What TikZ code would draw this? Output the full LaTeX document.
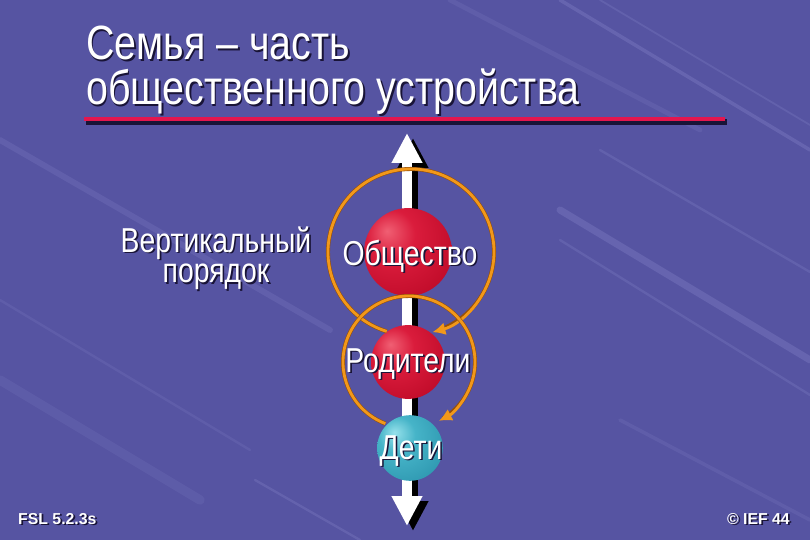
\documentclass[tikz,border=0pt]{standalone}
\usepackage{fontspec}
\setmainfont{Liberation Sans}[FakeStretch=0.82]
\newfontfamily\footfont{Liberation Sans}
\usetikzlibrary{arrows.meta}
\definecolor{bg}{RGB}{86,84,162}
\definecolor{streak}{RGB}{150,150,215}
\definecolor{shd}{RGB}{25,20,55}
\definecolor{rline}{RGB}{228,22,78}
\definecolor{orng}{RGB}{242,152,26}
\definecolor{orngd}{RGB}{150,80,10}
\definecolor{rs1}{RGB}{240,95,115}
\definecolor{rs2}{RGB}{218,28,60}
\definecolor{rs3}{RGB}{190,10,40}
\definecolor{rs4}{RGB}{130,0,25}
\definecolor{cs1}{RGB}{150,225,235}
\definecolor{cs2}{RGB}{70,180,200}
\definecolor{cs3}{RGB}{45,150,175}
\definecolor{cs4}{RGB}{20,100,130}
\pgfdeclareradialshading{redsph}{\pgfpoint{-12bp}{12bp}}{color(0bp)=(rs1); color(14bp)=(rs2); color(38bp)=(rs3); color(62bp)=(rs4); color(80bp)=(rs4)}
\pgfdeclareradialshading{cyansph}{\pgfpoint{-12bp}{12bp}}{color(0bp)=(cs1); color(14bp)=(cs2); color(38bp)=(cs3); color(62bp)=(cs4); color(80bp)=(cs4)}
\newcommand\stx[1]{\rlap{\kern1.4pt\raisebox{-1.4pt}{\color{shd}#1}}#1}
\begin{document}
\begin{tikzpicture}[x=0.03cm,y=-0.03cm,
  txt/.style={inner sep=0pt,text=white},
  ttl/.style={txt,font=\fontsize{41}{44}\selectfont,anchor=base west},
  lbl/.style={txt,font=\fontsize{29.5}{26}\selectfont,anchor=base},
  foot/.style={txt,font=\footfont\bfseries\fontsize{13.5}{15}\selectfont},
  ball/.style={circle,inner sep=0pt},
  redball/.style={ball,shading=redsph},
  cyanball/.style={ball,shading=cyansph},
  shaft/.style={line width=8.5pt,{Triangle[width=24.7pt,length=25.6pt]}-{Triangle[width=24.7pt,length=25.6pt]}},
  loopbase/.style={orngd,line width=3.4pt},
  loop/.style={orng,line width=2.4pt,-{Latex[length=11pt,width=11pt]}}
]
\useasboundingbox (0,0) rectangle (810,540);
\fill[bg] (0,0) rectangle (810,540);
% streaks
\begin{scope}[streak,line cap=round]
\draw[opacity=.25,line width=3pt] (560,0) -- (810,150);
\draw[opacity=.2,line width=1.5pt] (600,0) -- (810,125);
\draw[opacity=.25,line width=6pt] (560,210) -- (810,360);
\draw[opacity=.2,line width=2pt] (560,240) -- (810,395);
\draw[opacity=.2,line width=2pt] (600,150) -- (810,272);
\draw[opacity=.18,line width=5pt] (0,140) -- (330,330);
\draw[opacity=.15,line width=2pt] (0,300) -- (250,450);
\draw[opacity=.22,line width=2pt] (255,480) -- (360,540);
\draw[opacity=.15,line width=4pt] (450,0) -- (700,130);
\draw[opacity=.15,line width=3pt] (620,420) -- (810,520);
\draw[opacity=.12,line width=8pt] (0,380) -- (200,500);
\end{scope}
% title
\node[ttl] (t1) at (86,60) {\stx{Семья – часть}};
\node[ttl] (t2) at (86,105) {\stx{общественного устройства}};
\coordinate (ul) at (84,119);
\coordinate (ur) at (725,119);
\draw[shd,line width=4.5pt] ([shift={(2,3)}]ul) -- ([shift={(2,3)}]ur);
\draw[rline,line width=4.2pt] (ul) -- (ur);
% axis
\coordinate (top) at (407,133);
\coordinate (bot) at (407,526);
\draw[shaft,black,fill=black] ([shift={(6,5)}]bot) -- ([shift={(6,5)}]top);
\draw[shaft,white,fill=white] (bot) -- (top);
% spheres
\node[redball,minimum size=75pt] (soc) at (408,252) {};
\node[redball,minimum size=63pt] (par) at (408,362) {};
\node[cyanball,minimum size=56pt] (kid) at (410,448) {};
% loops
\coordinate (c1) at (411,252);
\coordinate (c2) at (409,362);
\draw[loopbase] ([shift={(-253:83)}]c1) arc[start angle=-253,end angle=72,radius=83];
\draw[loop] ([shift={(-253:83)}]c1) arc[start angle=-253,end angle=75,radius=83];
\draw[loopbase] ([shift={(-249:66)}]c2) arc[start angle=-249,end angle=59,radius=66];
\draw[loop] ([shift={(-249:66)}]c2) arc[start angle=-249,end angle=63,radius=66];
% labels
\node[lbl,align=center,anchor=center] (v) at (216,259) {\stx{Вертикальный}\\\stx{порядок}};
\node[lbl] (ls) at (410,265) {\stx{Общество}};
\node[lbl] (lp) at (408,372) {\stx{Родители}};
\node[lbl] (lk) at (411,459) {\stx{Дети}};
% footer
\node[foot,anchor=base west] (f1) at (18,524) {\stx{FSL 5.2.3s}};
\node[foot,anchor=base east] (f2) at (790,524) {\stx{© IEF 44}};
\end{tikzpicture}
\end{document}
